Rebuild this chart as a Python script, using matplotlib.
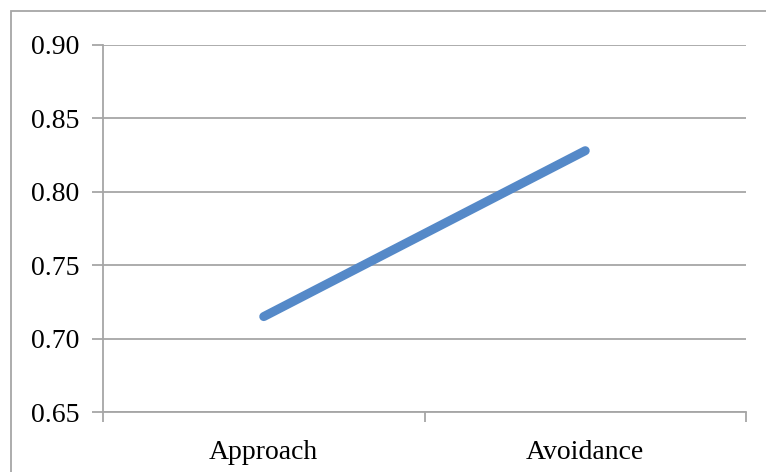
import matplotlib
matplotlib.use("Agg")
import matplotlib.pyplot as plt
from matplotlib.patches import Rectangle

categories = ["Approach", "Avoidance"]
values = [0.715, 0.828]
y_ticks = [0.65, 0.70, 0.75, 0.80, 0.85, 0.90]
y_tick_labels = ["0.65", "0.70", "0.75", "0.80", "0.85", "0.90"]

W, H = 766, 472
fig = plt.figure(figsize=(W / 100, H / 100), dpi=100)
plt.rcParams['font.family'] = ['Liberation Serif', 'DejaVu Serif']

grey = "#a6a6a6"

# outer chart frame (clipped at right and bottom edges)
fig.patches.append(Rectangle((11 / W, -0.1), 2.0, (H - 11) / H + 0.1,
                             transform=fig.transFigure, fill=False,
                             edgecolor=grey, linewidth=1.3))

left, right, top, bottom = 103, 746, 45, 412
ax = fig.add_axes([left / W, 1 - bottom / H, (right - left) / W, (bottom - top) / H])

x = [0.5, 1.5]
ax.plot(x, values, color="#5589c8", linewidth=6.5, solid_capstyle="round", zorder=3)

ax.set_xlim(0, 2)
ax.set_ylim(0.65, 0.90)
ax.set_yticks(y_ticks)
ax.set_yticklabels(y_tick_labels)
ax.yaxis.grid(True, color=grey, linewidth=1.3)
ax.set_axisbelow(True)

# category boundaries carry the ticks, names sit between them
ax.set_xticks([0, 1, 2])
ax.set_xticklabels([])
ax.set_xticks(x, minor=True)
ax.set_xticklabels(categories, minor=True)
ax.tick_params(axis='x', which='minor', length=0, pad=20, labelsize=20)
ax.tick_params(axis='x', which='major', length=7, width=1.3, color=grey)
ax.tick_params(axis='y', length=8, width=1.3, color=grey, pad=9, labelsize=20)

for s in ["top", "right"]:
    ax.spines[s].set_visible(False)
for s in ["left", "bottom"]:
    ax.spines[s].set_color(grey)
    ax.spines[s].set_linewidth(1.3)

fig.savefig("out.png", dpi=100)
